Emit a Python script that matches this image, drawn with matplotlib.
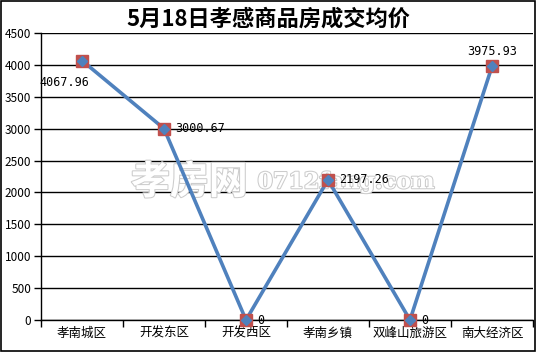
import matplotlib
matplotlib.use("Agg")
import matplotlib.pyplot as plt
import matplotlib.patheffects as pe
from matplotlib.patches import Rectangle

plt.rcParams['font.family'] = ['Noto Sans CJK SC', 'DejaVu Sans']

districts = ['孝南城区', '开发东区', '开发西区', '孝南乡镇', '双峰山旅游区', '南大经济区']
prices = [4067.96, 3000.67, 0, 2197.26, 0, 3975.93]
label_text = ['4067.96', '3000.67', '0', '2197.26', '0', '3975.93']
label_offsets = [(-13, -16), (8, 0), (8, 0), (8, 0), (8, 0), (0, 11)]
label_align = ['center', 'left', 'left', 'left', 'left', 'center']

fig = plt.figure(figsize=(5.37, 3.52), dpi=100)
fig.patches.append(Rectangle((0.002, 0.003), 0.994, 0.994, transform=fig.transFigure,
                             fill=False, edgecolor='black', linewidth=1.2))
ax = fig.add_axes([41 / 537, 32 / 352, 492 / 537, 287 / 352])

x = [i + 0.5 for i in range(len(districts))]
ax.plot(x, prices, color='#4F81BD', linewidth=2.6, zorder=3)
ax.plot(x, prices, linestyle='none', marker='s', markersize=8,
        markerfacecolor='#C0504D', markeredgecolor='#C0504D', zorder=4, clip_on=False)
ax.plot(x, prices, linestyle='none', marker='D', markersize=5.5,
        markerfacecolor='#4F81BD', markeredgecolor='#4F81BD', zorder=5, clip_on=False)

for xi, yi, t, off, ha in zip(x, prices, label_text, label_offsets, label_align):
    ax.annotate(t, (xi, yi), xytext=off, textcoords='offset points',
                ha=ha, va='center', fontsize=8.5, family='DejaVu Sans Mono', zorder=6)

# watermark
halo = [pe.withStroke(linewidth=1.5, foreground='#cccccc')]
ax.text(0.42, 0.48, '孝房网', transform=ax.transAxes, fontsize=28, fontweight='bold',
        color='white', ha='right', va='center', zorder=2, path_effects=halo)
ax.text(0.44, 0.48, '0712fang.com', transform=ax.transAxes, fontsize=16, fontweight='bold',
        color='white', ha='left', va='center', zorder=2, family='DejaVu Serif',
        path_effects=halo)

ax.set_xlim(0, len(districts))
ax.set_ylim(0, 4500)
ax.set_yticks(range(0, 4501, 500))
ax.set_xticks(range(0, len(districts) + 1), minor=False)
ax.set_xticklabels([''] * (len(districts) + 1))
ax.set_xticks(x, minor=True)
ax.set_xticklabels(districts, minor=True, fontsize=9)
ax.tick_params(axis='x', which='minor', length=0, pad=5)
ax.tick_params(axis='x', which='major', length=5, direction='out', width=1)
ax.tick_params(axis='y', length=5, direction='out', labelsize=8.5, pad=2, width=1)
ax.grid(axis='y', color='black', linewidth=1)
ax.set_axisbelow(True)
for s in ['top', 'right']:
    ax.spines[s].set_visible(False)
ax.spines['left'].set_linewidth(1)
ax.spines['bottom'].set_linewidth(1)

fig.text(0.5, 0.945, '5月18日孝感商品房成交均价', ha='center', va='center',
         fontsize=16, fontweight='bold')

fig.savefig('out.png', dpi=100)
